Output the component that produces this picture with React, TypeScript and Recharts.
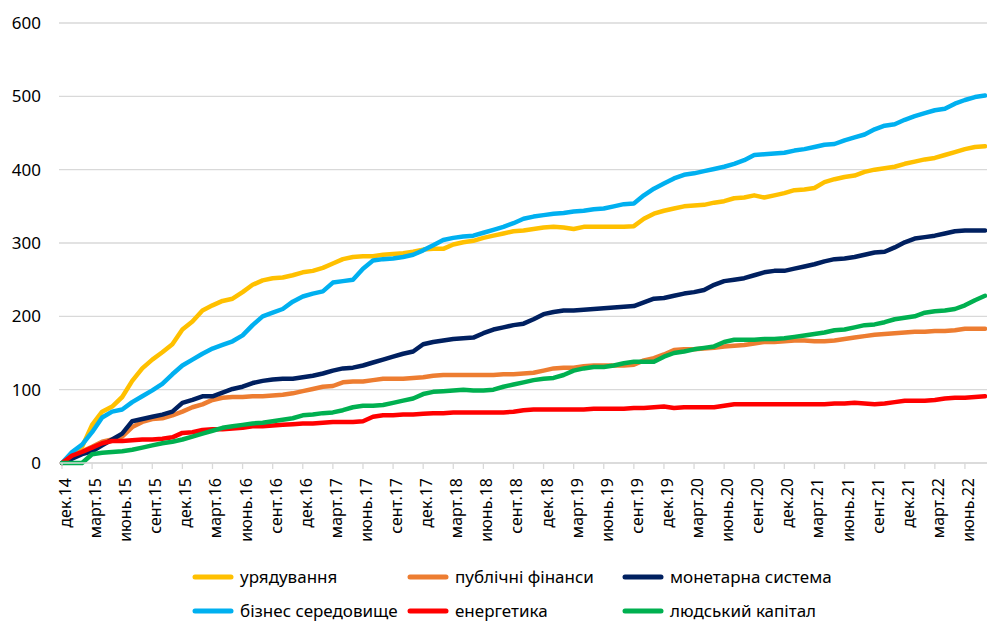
import { LineChart, Line, XAxis, YAxis, CartesianGrid } from "recharts"

// monthly, дек.14 .. авг.22
const monthNames = ["янв", "февр", "март", "апр", "май", "июнь", "июль", "авг", "сент", "окт", "нояб", "дек"]
const startYear = 14
const startMonth = 11
const pointCount = 93

const months: string[] = Array.from({ length: pointCount }, (_, i) => {
  const m = (startMonth + i) % 12
  const y = startYear + Math.floor((startMonth + i) / 12)
  return `${monthNames[m]}.${y}`
})

const yTicks = [0, 100, 200, 300, 400, 500, 600]

const uriaduvannia = [
  0, 10, 22, 52, 70, 77, 90, 112, 129, 141,
  151, 162, 182, 193, 208, 215, 221, 224, 233, 243,
  249, 252, 253, 256, 260, 262, 266, 272, 278, 281,
  282, 282, 284, 285, 286, 288, 291, 292, 292, 298,
  301, 303, 307, 310, 313, 316, 317, 319, 321, 322,
  321, 319, 322, 322, 322, 322, 322, 323, 333, 340,
  344, 347, 350, 351, 352, 355, 357, 361, 362, 365,
  362, 365, 368, 372, 373, 375, 383, 387, 390, 392,
  397, 400, 402, 404, 408, 411, 414, 416, 420, 424,
  428, 431, 432,
]

const publichniFinansy = [
  0, 10, 16, 22, 29, 32, 36, 49, 56, 60,
  61, 65, 70, 76, 80, 86, 89, 90, 90, 91,
  91, 92, 93, 95, 98, 101, 104, 105, 110, 111,
  111, 113, 115, 115, 115, 116, 117, 119, 120, 120,
  120, 120, 120, 120, 121, 121, 122, 123, 126, 129,
  130, 130, 132, 133, 133, 133, 133, 134, 140, 143,
  148, 154, 155, 155, 156, 157, 159, 160, 161, 163,
  165, 165, 166, 167, 167, 166, 166, 167, 169, 171,
  173, 175, 176, 177, 178, 179, 179, 180, 180, 181,
  183, 183, 183,
]

const monetarnaSystema = [
  0, 6, 12, 16, 24, 32, 40, 57, 60, 63,
  66, 70, 82, 86, 91, 91, 96, 101, 104, 109,
  112, 114, 115, 115, 117, 119, 122, 126, 129, 130,
  133, 137, 141, 145, 149, 152, 162, 165, 167, 169,
  170, 171, 177, 182, 185, 188, 190, 196, 203, 206,
  208, 208, 209, 210, 211, 212, 213, 214, 219, 224,
  225, 228, 231, 233, 236, 243, 248, 250, 252, 256,
  260, 262, 262, 265, 268, 271, 275, 278, 279, 281,
  284, 287, 288, 294, 301, 306, 308, 310, 313, 316,
  317, 317, 317,
]

const biznesSeredovyshche = [
  0, 15, 25, 42, 62, 70, 73, 83, 91, 99,
  108, 121, 133, 141, 149, 156, 161, 166, 174, 188,
  200, 205, 210, 220, 227, 231, 234, 246, 248, 250,
  265, 276, 278, 279, 281, 284, 290, 297, 304, 307,
  309, 310, 314, 318, 322, 327, 333, 336, 338, 340,
  341, 343, 344, 346, 347, 350, 353, 354, 365, 374,
  381, 388, 393, 395, 398, 401, 404, 408, 413, 420,
  421, 422, 423, 426, 428, 431, 434, 435, 440, 444,
  448, 455, 460, 462, 468, 473, 477, 481, 483, 490,
  495, 499, 501,
]

const enerhetyka = [
  0, 10, 15, 21, 27, 30, 30, 31, 32, 32,
  33, 35, 41, 42, 45, 46, 46, 47, 48, 50,
  50, 51, 52, 53, 54, 54, 55, 56, 56, 56,
  57, 63, 65, 65, 66, 66, 67, 68, 68, 69,
  69, 69, 69, 69, 69, 70, 72, 73, 73, 73,
  73, 73, 73, 74, 74, 74, 74, 75, 75, 76,
  77, 75, 76, 76, 76, 76, 78, 80, 80, 80,
  80, 80, 80, 80, 80, 80, 80, 81, 81, 82,
  81, 80, 81, 83, 85, 85, 85, 86, 88, 89,
  89, 90, 91,
]

const liudskyiKapital = [
  0, 0, 0, 12, 14, 15, 16, 18, 21, 24,
  27, 29, 32, 36, 40, 44, 48, 50, 52, 54,
  55, 57, 59, 61, 65, 66, 68, 69, 72, 76,
  78, 78, 79, 82, 85, 88, 94, 97, 98, 99,
  100, 99, 99, 100, 104, 107, 110, 113, 115, 116,
  120, 126, 129, 131, 131, 133, 136, 138, 138, 138,
  145, 150, 152, 155, 157, 159, 165, 168, 168, 168,
  169, 169, 170, 172, 174, 176, 178, 181, 182, 185,
  188, 189, 192, 196, 198, 200, 205, 207, 208, 210,
  215, 222, 228,
]

const series = [
  { key: "uriad", name: "урядування", color: "#FFC000", values: uriaduvannia },
  { key: "publ", name: "публічні фінанси", color: "#ED7D31", values: publichniFinansy },
  { key: "monet", name: "монетарна система", color: "#002060", values: monetarnaSystema },
  { key: "biznes", name: "бізнес середовище", color: "#00B0F0", values: biznesSeredovyshche },
  { key: "energ", name: "енергетика", color: "#FF0000", values: enerhetyka },
  { key: "liud", name: "людський капітал", color: "#00B050", values: liudskyiKapital },
]

const data = months.map((month, i) => {
  const row: Record<string, string | number> = { month }
  series.forEach((s) => {
    row[s.key] = s.values[i]
  })
  return row
})

const FONT = "'Noto Sans', 'DejaVu Sans', sans-serif"

function MonthTick({ x, y, payload }: any) {
  return (
    <text
      x={0}
      y={0}
      transform={`translate(${x + 9},${y + 7}) rotate(-90)`}
      textAnchor="end"
      fontSize={16}
      fill="#000"
      fontFamily={FONT}
    >
      {payload.value}
    </text>
  )
}

export default function App() {
  return (
    <div style={{ position: "absolute", left: 0, top: 0, width: 987, height: 623, background: "#fff", fontFamily: FONT }}>
      <LineChart width={987} height={623} data={data} margin={{ top: 23, right: 0, bottom: 99, left: 0 }}>
        <CartesianGrid vertical={false} stroke="#d9d9d9" strokeWidth={1.3} />
        <XAxis
          dataKey="month"
          interval={2}
          height={61}
          padding={{ left: 3, right: 2 }}
          axisLine={{ stroke: "#d9d9d9", strokeWidth: 1.3 }}
          tickLine={{ stroke: "#d9d9d9", strokeWidth: 1.3 }}
          tickSize={6}
          tick={<MonthTick />}
        />
        <YAxis
          domain={[0, 600]}
          ticks={yTicks}
          width={59}
          axisLine={false}
          tickLine={false}
          tickMargin={12}
          tick={{ fontSize: 17, fill: "#000", fontFamily: FONT }}
        />
        {series.map((s) => (
          <Line
            key={s.key}
            type="linear"
            dataKey={s.key}
            name={s.name}
            stroke={s.color}
            strokeWidth={4.5}
            strokeLinecap="round"
            strokeLinejoin="round"
            dot={false}
            activeDot={false}
            isAnimationActive={false}
          />
        ))}
      </LineChart>

      {/* legend, 2 rows x 3 columns */}
      {series.map((s, i) => {
        const col = i % 3
        const row = Math.floor(i / 3)
        return (
          <div
            key={s.key}
            style={{
              position: "absolute",
              left: 192 + col * 215,
              top: 577 + row * 34 - 12,
              height: 24,
              lineHeight: "24px",
              display: "flex",
              alignItems: "center",
              fontSize: 17,
              color: "#000",
              whiteSpace: "nowrap",
            }}
          >
            <svg width={44} height={10}>
              <line x1={3} y1={5} x2={39} y2={5} stroke={s.color} strokeWidth={5} strokeLinecap="round" />
            </svg>
            <span style={{ marginLeft: 4 }}>{s.name}</span>
          </div>
        )
      })}
    </div>
  )
}
